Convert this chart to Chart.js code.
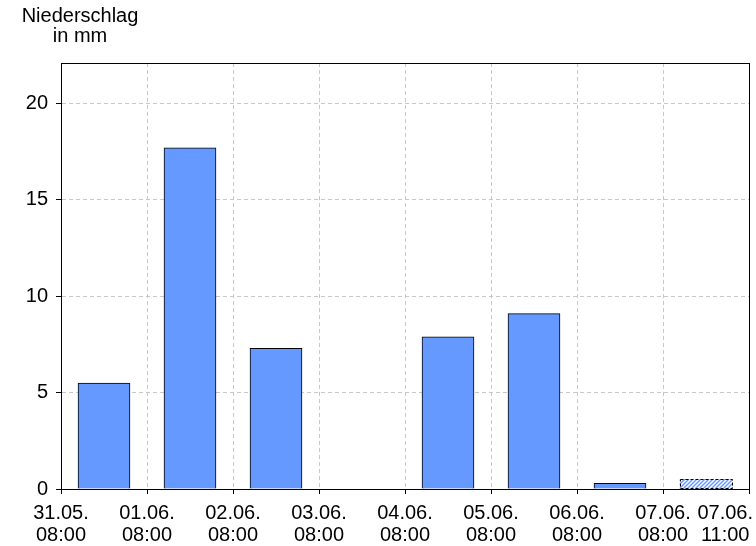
<!DOCTYPE html>
<html>
<head>
<meta charset="utf-8">
<script src="https://cdn.jsdelivr.net/npm/chart.js"></script>
<style>
  body { margin: 0; background: #fff; }
  #wrap { width: 756px; height: 546px; }
</style>
</head>
<body>
<div id="wrap"><canvas id="regenChart"></canvas></div>
<script>
  // Zeitpunkte an den Rasterlinien (Grenzen der Intervalle)
  const zeitTage = ['31.05.', '01.06.', '02.06.', '03.06.', '04.06.', '05.06.', '06.06.', '07.06.', '07.06.'];
  const zeitUhr = ['08:00', '08:00', '08:00', '08:00', '08:00', '08:00', '08:00', '08:00', '11:00'];
  // Niederschlag je Intervall in mm
  const niederschlag = [5.5, 17.7, 7.3, 0, 7.9, 9.1, 0.3, 0.5];
  // letztes Intervall ist noch unvollständig (schraffiert)
  const unvollstaendig = [false, false, false, false, false, false, false, true];
  const yMax = 22.1;

  const schrift = '"Liberation Sans", Arial, sans-serif';
  const blau = '#6699ff';

  // Schraffur für das unvollständige Intervall
  const pc = document.createElement('canvas');
  pc.width = 4; pc.height = 4;
  const pctx = pc.getContext('2d');
  pctx.fillStyle = '#fff';
  pctx.fillRect(0, 0, 4, 4);
  pctx.strokeStyle = blau;
  pctx.lineWidth = 1.4;
  pctx.beginPath();
  pctx.moveTo(-1, 5); pctx.lineTo(5, -1);
  pctx.moveTo(-1, 1); pctx.lineTo(1, -1);
  pctx.moveTo(3, 5); pctx.lineTo(5, 3);
  pctx.stroke();
  const schraffur = pctx.createPattern(pc, 'repeat');

  const rahmen = {
    id: 'rahmen',
    afterDatasetsDraw(chart) {
      const ctx = chart.ctx;
      const meta = chart.getDatasetMeta(0);
      ctx.save();
      ctx.strokeStyle = '#000';
      ctx.lineWidth = 1;
      ctx.setLineDash([3, 2]);
      meta.data.forEach((bar, i) => {
        if (!unvollstaendig[i]) return;
        const p = bar.getProps(['x', 'y', 'base', 'width'], true);
        ctx.strokeRect(Math.round(p.x - p.width / 2) + 0.5, Math.round(p.y) + 0.5,
                       Math.round(p.width), Math.round(p.base - p.y));
      });
      ctx.restore();
    },
    afterDraw(chart) {
      const ctx = chart.ctx;
      const a = chart.chartArea;
      const xs = chart.scales.x;
      ctx.save();
      ctx.strokeStyle = '#000';
      ctx.lineWidth = 1;
      ctx.strokeRect(Math.round(a.left) + 0.5, Math.round(a.top) + 0.5,
                     Math.round(a.right - a.left), Math.round(a.bottom - a.top));

      // Achsenbeschriftung x
      ctx.fillStyle = '#000';
      ctx.font = '20px ' + schrift;
      ctx.textBaseline = 'alphabetic';
      zeitTage.forEach((t, i) => {
        let x = xs.getPixelForValue(i);
        const w = Math.max(ctx.measureText(t).width, ctx.measureText(zeitUhr[i]).width);
        x = Math.min(x, chart.width - 3 - w / 2);
        ctx.textAlign = 'center';
        ctx.fillText(t, x, a.bottom + 30);
        ctx.fillText(zeitUhr[i], x, a.bottom + 52);
      });

      // Einheit oben links
      ctx.font = '20px ' + schrift;
      ctx.textAlign = 'center';
      ctx.fillText('Niederschlag', 80, 22);
      ctx.fillText('in mm', 80, 42);
      ctx.restore();
    }
  };

  const ctx = document.getElementById('regenChart');
  new Chart(ctx, {
    type: 'bar',
    data: {
      datasets: [{
        label: 'Niederschlag',
        data: niederschlag.map((v, i) => ({ x: i + 0.5, y: v })),
        backgroundColor: unvollstaendig.map(u => u ? schraffur : blau),
        borderColor: '#000',
        borderWidth: unvollstaendig.map(u => u ? 0 : 1),
        borderSkipped: 'bottom',
        barThickness: 52
      }]
    },
    options: {
      responsive: true,
      maintainAspectRatio: false,
      animation: false,
      layout: { padding: { top: 63, right: 7, left: 0, bottom: 0 } },
      plugins: {
        legend: { display: false },
        tooltip: { enabled: false },
        title: { display: false }
      },
      scales: {
        x: {
          type: 'linear',
          min: 0,
          max: zeitTage.length - 1,
          offset: false,
          z: 1,
          ticks: { display: false, stepSize: 1 },
          grid: {
            offset: false,
            color: '#c8c8c8',
            tickColor: '#000',
            tickBorderDash: [],
            tickLength: 5
          },
          border: { color: '#000', width: 1, dash: [4, 3] },
          afterFit: s => { s.height = 57; }
        },
        y: {
          min: 0,
          max: yMax,
          z: 1,
          ticks: {
            stepSize: 5,
            color: '#000',
            padding: 8,
            font: { family: schrift, size: 20 }
          },
          afterBuildTicks: s => { s.ticks = s.ticks.filter(t => t.value % 5 === 0); },
          grid: {
            color: '#c8c8c8',
            tickColor: '#000',
            tickBorderDash: [],
            tickLength: 5
          },
          border: { color: '#000', width: 1, dash: [4, 3] },
          afterFit: s => { s.width = 61; }
        }
      }
    },
    plugins: [rahmen]
  });
</script>
</body>
</html>
